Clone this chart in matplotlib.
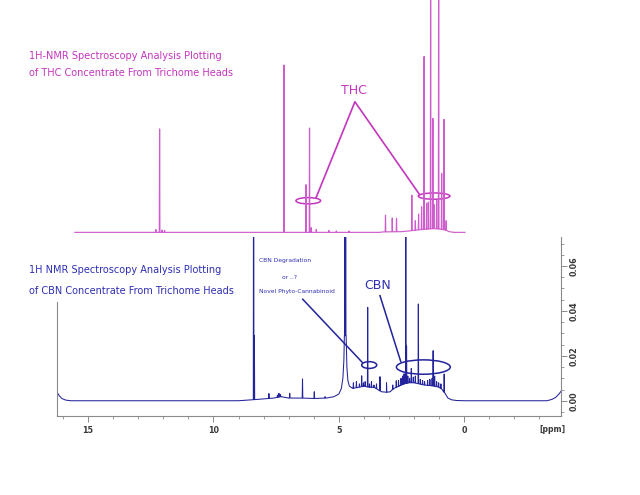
import matplotlib
matplotlib.use("Agg")
import matplotlib.pyplot as plt
from matplotlib.patches import Ellipse
from matplotlib.ticker import MultipleLocator
import numpy as np

# ---------------- data ----------------
# THC (top) spectrum: baseline and peaks (relative intensity)
thc_base_ppm = [15.53, 12.4, 3.4, 3.2, 2.5, 2.2, 1.9, 1.5, 1.2, 0.95, 0.75, 0.6, 0.4, -0.03]
thc_base_val = [0.0, 0.0, 0.0, 0.002, 0.003, 0.006, 0.010, 0.014, 0.016, 0.014, 0.010, 0.003, 0.0, 0.0]
thc_peak_ppm = [12.30, 12.15, 12.05, 11.95, 7.19, 6.31, 6.17, 6.10, 5.90, 5.40, 5.10, 4.60,
                3.14, 2.87, 2.70, 2.09, 1.95, 1.82, 1.70, 1.60, 1.50, 1.43, 1.34, 1.25,
                1.21, 1.10, 1.02, 0.90, 0.81, 0.72]
thc_peak_val = [0.012, 0.445, 0.010, 0.008, 0.72, 0.205, 0.449, 0.020, 0.012, 0.008, 0.006, 0.006,
                0.074, 0.062, 0.060, 0.16, 0.05, 0.079, 0.11, 0.757, 0.125, 0.13, 1.3, 0.49,
                0.12, 0.14, 1.3, 0.254, 0.486, 0.05]

# CBN (bottom) spectrum
cbn_base_ppm = [16.23, 16.15, 16.05, 15.9, 15.7, 9.8, 9.0, 8.6, 8.0, 7.6, 7.3, 7.0, 6.5, 6.0,
                5.5, 5.2, 5.0, 4.9, 4.84, 4.80, 4.78, 4.71, 4.68, 4.64, 4.58, 4.45, 4.2, 4.0,
                3.8, 3.6, 3.45, 3.3, 3.1, 2.95, 2.8, 2.6, 2.4, 2.2, 2.0, 1.8, 1.6, 1.4, 1.2,
                1.0, 0.88, 0.75, 0.65, 0.5, 0.3, 0.0, -3.3, -3.5, -3.65, -3.78, -3.86]
cbn_base_val = [0.0036, 0.0022, 0.0010, 0.0003, 0.0, 0.0, 0.0, 0.0003, 0.0008, 0.0012, 0.0018,
                0.0012, 0.0012, 0.0010, 0.0012, 0.0018, 0.0030, 0.0055, 0.0100, 0.0180, 0.0290,
                0.0290, 0.0150, 0.0090, 0.0065, 0.0055, 0.0060, 0.0065, 0.0060, 0.0060, 0.0050,
                0.0040, 0.0038, 0.0040, 0.0055, 0.0065, 0.0075, 0.0080, 0.0080, 0.0075, 0.0070,
                0.0068, 0.0065, 0.0060, 0.0050, 0.0030, 0.0012, 0.0004, 0.0001, 0.0, 0.0,
                0.0006, 0.0015, 0.0030, 0.0042]
cbn_peak_ppm = [8.40, 8.37, 7.79, 7.45, 7.39, 7.33, 6.96, 6.45, 5.98, 5.55, 4.76, 4.73, 4.42,
                4.30, 4.18, 4.09, 4.02, 3.95, 3.85, 3.78, 3.70, 3.60, 3.50, 3.36, 3.10, 2.85,
                2.71, 2.62, 2.52, 2.45, 2.40, 2.33, 2.30, 2.25, 2.18, 2.11, 2.03, 1.95, 1.83,
                1.75, 1.66, 1.58, 1.46, 1.37, 1.28, 1.24, 1.18, 1.10, 1.02, 0.93, 0.80]
cbn_peak_val = [0.2, 0.029, 0.0032, 0.0025, 0.0033, 0.0028, 0.0033, 0.0097, 0.0040, 0.0018,
                0.2, 0.2, 0.0080, 0.0085, 0.0075, 0.0111, 0.0080, 0.0085, 0.0416, 0.0075,
                0.0085, 0.0070, 0.0075, 0.0107, 0.0080, 0.0070, 0.0089, 0.0090, 0.0100, 0.0110,
                0.0120, 0.0750, 0.0244, 0.0110, 0.0100, 0.0144, 0.0105, 0.0110, 0.0431, 0.0095,
                0.0090, 0.0085, 0.0090, 0.0095, 0.0100, 0.0223, 0.0110, 0.0085, 0.0080, 0.0075,
                0.0119]

x_major_ticks = [15, 10, 5, 0]
y_major_ticks = [0.00, 0.02, 0.04, 0.06]

# ---------------- helpers ----------------
def spectrum(base_ppm, base_val, peak_ppm, peak_val, half=0.012):
    """Merge baseline points and narrow peaks into one descending-ppm polyline."""
    bp = np.array(base_ppm)[::-1]
    bv = np.array(base_val)[::-1]
    xs = list(base_ppm)
    ys = list(base_val)
    for p, v in zip(peak_ppm, peak_val):
        b = float(np.interp(p, bp, bv))
        xs += [p + half, p, p - half]
        ys += [b, v, b]
    order = np.argsort(xs)[::-1]
    return np.array(xs)[order], np.array(ys)[order]

W, H = 640, 495
fig = plt.figure(figsize=(6.4, 4.95), dpi=100)
fig.patch.set_facecolor("white")

magenta_text = "#c435bf"
magenta_line = "#cf5ccd"
blue_text = "#2e2eb4"
blue_line = "#23239c"
axis_gray = "#8a8a8a"
label_gray = "#3a3a3a"

L, R = 57.3, 561.0
XLIM = (16.23, -3.86)

# ---- bottom axes (CBN) ----
axb = fig.add_axes([L / W, (H - 416) / H, (R - L) / W, (416 - 237.3) / H])
x, y = spectrum(cbn_base_ppm, cbn_base_val, cbn_peak_ppm, cbn_peak_val)
axb.plot(x, y, color=blue_line, lw=0.75)
axb.set_xlim(*XLIM)
axb.set_ylim(-0.0068, 0.0728)
axb.spines["top"].set_visible(False)
axb.spines["left"].set_bounds(-0.0068, 0.044)
for s in ["left", "right", "bottom"]:
    axb.spines[s].set_color(axis_gray)
    axb.spines[s].set_linewidth(0.8)
axb.yaxis.tick_right()
axb.set_xticks(x_major_ticks)
axb.set_xticklabels([str(t) for t in x_major_ticks])
axb.xaxis.set_minor_locator(MultipleLocator(1))
axb.set_yticks(y_major_ticks)
axb.set_yticklabels([f"{t:.2f}" for t in y_major_ticks], rotation=90, va="center")
axb.yaxis.set_minor_locator(MultipleLocator(0.005))
axb.tick_params(axis="both", which="major", length=4.5, width=0.7, color=axis_gray,
                labelsize=5.8, labelcolor=label_gray, pad=2.5)
axb.tick_params(axis="both", which="minor", length=2.5, width=0.6, color=axis_gray)
for lab in axb.get_xticklabels() + axb.get_yticklabels():
    lab.set_fontweight("bold")
axb.tick_params(axis="y", which="major", pad=1.5)
fig.text(565 / W, 1 - 430 / H, "[ppm]", ha="right", va="center", fontsize=5.6,
         fontweight="bold", color=label_gray)

# bottom annotations
axb.add_patch(Ellipse((1.63, 0.0150), 2.15, 0.0064, fill=False, ec=blue_line, lw=1.1))
axb.add_patch(Ellipse((3.79, 0.0159), 0.60, 0.0030, fill=False, ec=blue_line, lw=1.1))
axb.plot([6.44, 4.05], [0.0452, 0.0169], color=blue_line, lw=1.1)
axb.plot([3.36, 2.53], [0.0468, 0.0174], color=blue_line, lw=1.1)
axb.text(3.44, 0.0512, "CBN", ha="center", va="center", fontsize=9, color=blue_text)
axb.text(8.17, 0.0624, "CBN Degradation", ha="left", va="center", fontsize=4.3, color=blue_text)
axb.text(7.28, 0.0550, "or ..?", ha="left", va="center", fontsize=4.3, color=blue_text)
axb.text(8.17, 0.0487, "Novel Phyto-Cannabinoid", ha="left", va="center", fontsize=4.3,
         color=blue_text)

fig.text(28.8 / W, 1 - 270 / H, "1H NMR Spectroscopy Analysis Plotting", ha="left",
         va="center", fontsize=7.0, color=blue_text)
fig.text(28.8 / W, 1 - 290.5 / H, "of CBN Concentrate From Trichome Heads", ha="left",
         va="center", fontsize=7.0, color=blue_text)

# ---- top axes (THC) ----
axt = fig.add_axes([L / W, (H - 237) / H, (R - L) / W, 237 / H])
x, y = spectrum(thc_base_ppm, thc_base_val, thc_peak_ppm, thc_peak_val)
axt.plot(x, y, color=magenta_line, lw=0.85)
axt.set_xlim(*XLIM)
axt.set_ylim(-0.02, 1.0)
axt.axis("off")

axt.add_patch(Ellipse((6.22, 0.136), 0.985, 0.027, fill=False, ec=magenta_text, lw=1.1))
axt.add_patch(Ellipse((1.20, 0.156), 1.26, 0.027, fill=False, ec=magenta_text, lw=1.1))
axt.plot([5.91, 4.36, 1.79], [0.149, 0.562, 0.164], color=magenta_text, lw=1.2)
axt.text(4.40, 0.6125, "THC", ha="center", va="center", fontsize=9, color=magenta_text)

fig.text(28.8 / W, 1 - 56 / H, "1H-NMR Spectroscopy Analysis Plotting", ha="left",
         va="center", fontsize=7.0, color=magenta_text)
fig.text(28.8 / W, 1 - 73.3 / H, "of THC Concentrate From Trichome Heads", ha="left",
         va="center", fontsize=7.0, color=magenta_text)

fig.savefig("out.png", dpi=100, facecolor="white")
